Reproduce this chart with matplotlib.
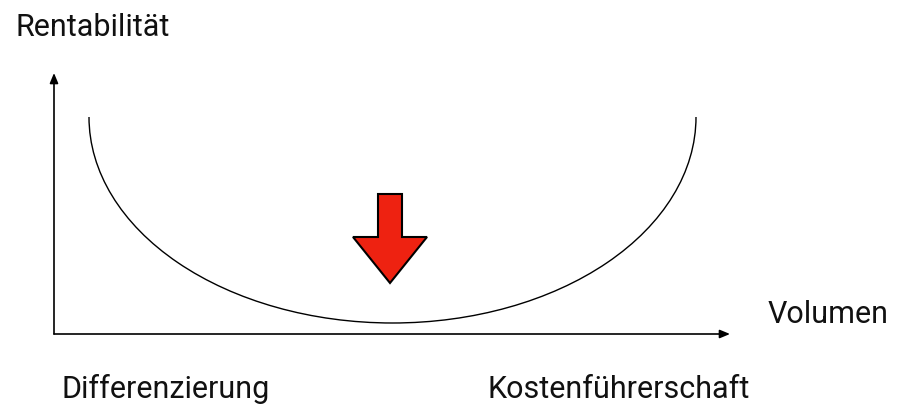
import matplotlib
matplotlib.use("Agg")
import matplotlib.pyplot as plt
from matplotlib.patches import Arc, FancyArrow

plt.rcParams["font.family"] = ["Roboto", "DejaVu Sans"]

# text labels and their anchor (left x, baseline y) in pixel coordinates
LABELS = ["Rentabilität", "Volumen", "Differenzierung", "Kostenführerschaft"]
LABEL_X = [15, 768, 62, 487]
LABEL_Y = [36, 323, 398, 398]

# axes (origin and arrow tips)
ORIGIN = (54, 334)
Y_TIP = (54, 73)
X_TIP = (730, 334)

# U-curve: half ellipse from left end to right end, bottom at CURVE_BOTTOM
CURVE_ENDS_X = [89, 696]
CURVE_TOP_Y = 117
CURVE_BOTTOM = 323

# red arrow: top of shaft, tip
ARROW_X = 390
ARROW_TOP = 194
ARROW_TIP = 283

RED = "#ee2211"

fig = plt.figure(figsize=(9, 4.08), dpi=100)
ax = fig.add_axes([0, 0, 1, 1])
ax.set_xlim(0, 900)
ax.set_ylim(408, 0)
ax.axis("off")

arrow_kw = dict(arrowstyle="-|>,head_length=0.6,head_width=0.25", color="black",
                lw=1.2, shrinkA=0, shrinkB=0)
ax.annotate("", xy=Y_TIP, xytext=ORIGIN, arrowprops=arrow_kw)
ax.annotate("", xy=X_TIP, xytext=ORIGIN, arrowprops=arrow_kw)

cx = (CURVE_ENDS_X[0] + CURVE_ENDS_X[1]) / 2
w = CURVE_ENDS_X[1] - CURVE_ENDS_X[0]
h = 2 * (CURVE_BOTTOM - CURVE_TOP_Y)
ax.add_patch(Arc((cx, CURVE_TOP_Y), w, h, theta1=0, theta2=180, color="black", lw=1.0))

ax.add_patch(FancyArrow(ARROW_X, ARROW_TOP, 0, ARROW_TIP - ARROW_TOP, width=24,
                        head_width=74, head_length=46, length_includes_head=True,
                        facecolor=RED, edgecolor="black", lw=1.5))

for t, x, y in zip(LABELS, LABEL_X, LABEL_Y):
    ax.text(x, y, t, fontsize=22, ha="left", va="baseline", color="#111111")

fig.savefig("out.png", dpi=100)
